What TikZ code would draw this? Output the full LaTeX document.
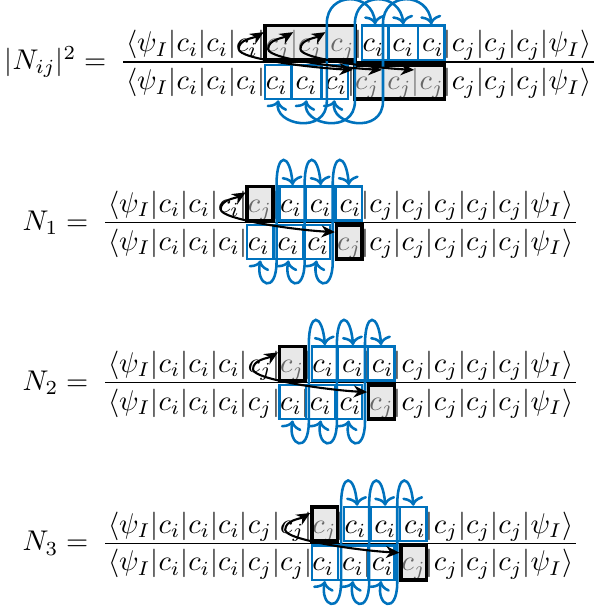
\documentclass[tikz,border=0pt]{standalone}
\usepackage{graphicx}
\usetikzlibrary{calc,arrows.meta}
\definecolor{mblue}{RGB}{0,114,189}
\tikzset{
  sym/.style={inner sep=0pt, outer sep=0pt, anchor=base west},
  bcell/.style={draw=mblue, line width=0.8pt, inner sep=0pt, outer sep=0pt, minimum height=11.4pt},
  kgroup/.style={draw=black, line width=1.2pt, fill=black!18, fill opacity=0.5, inner sep=0pt, outer sep=0pt, minimum height=11.4pt},
  bluearrow/.style={draw=mblue, line width=0.85pt, >={To[length=3pt,width=7pt]}, <->},
  blackarrow/.style={draw=black, line width=0.7pt, >={Stealth[length=4.5pt,width=4pt]}, <->},
  fracrule/.style={line width=0.4pt},
}
\newcommand\mth[1]{\scalebox{0.95}{$#1$}}
\newcommand\upsh{3.08pt}
\newcommand\dnsh{2.67pt}
% one row of the bra-ket string, each symbol a named node
\newcommand\mkrow[4]{%
  \node[sym] (#1C0) at (#2,#3) {\mth{\langle\psi_I}};
  \foreach \s [count=\k] in {#4} {
    \pgfmathtruncatemacro\pk{\k-1}
    \node[sym] (#1B\k) at (#1C\pk.base east) {\mth{|}};
    \node[sym] (#1C\k) at (#1B\k.base east) {\mth{c_\s}};
  }
  \node[sym] (#1B13) at (#1C12.base east) {\mth{|}};
  \node[sym] (#1E) at (#1B13.base east) {\mth{\psi_I\rangle}};
}
\newcommand\bluecell[7]{%
  \path let \p1=(#2B#3.center), \p2=(#2B#4.center), \p3=(#2C#3.base) in
    node[bcell, minimum width={\x2-\x1-#5-#6}] (#1) at ({(\x1+\x2+#5-#6)/2},{\y3+#7}) {};
}
\newcommand\blackgroup[5]{%
  \path let \p1=(#2B#3.center), \p2=(#2B#4.center), \p3=(#2C#3.base) in
    node[kgroup, minimum width={\x2-\x1-2.2pt}] (#1) at ({(\x1+\x2)/2},{\y3+#5}) {};
}
\newcommand\sloop[2]{%
  \draw[bluearrow] let \p1=(#1.south), \p2=(#2.north), \p3=($(#1.south)!0.5!(#2.north)$) in
    (\x1,\y1-0.4pt) .. controls (\x1-1.7pt,\y1-8.7pt) and (\x3,\y1-12pt) .. (\x3,\y1-0.7pt)
    -- (\x3,\y2+0.7pt) .. controls (\x3,\y2+11.6pt) and (\x2-0.9pt,\y2+11.3pt) .. (\x2,\y2+0.4pt);
}
\newcommand\bcurve[2]{%
  \draw[blackarrow] (#1) .. controls +(-10,6) and +(0,-10) .. ($(#1)+(-25,17)$)
    .. controls +(0,10) and +(-40,-2) .. (#2);
}
\newcommand\nrow[6]{% index, p, rule y, num list, den list, x0
  \pgfmathsetmacro\ynum{#3-10}
  \pgfmathsetmacro\yden{#3+27.5}
  \pgfmathtruncatemacro\pa{#2+1}
  \pgfmathtruncatemacro\pb{#2+2}
  \pgfmathtruncatemacro\pc{#2+3}
  \pgfmathtruncatemacro\pd{#2+4}
  \mkrow{U#1}{#6}{\ynum}{#4}
  \mkrow{L#1}{#6}{\yden}{#5}
  \coordinate (r#1) at (0,#3);
  \draw[fracrule] ($(U#1C0.west |- r#1)+(-3,0)$) -- ($(U#1E.east |- r#1)+(3,0)$);
  \node[anchor=base east, inner sep=0pt] (lab#1) at ($(U#1C0.west |- r#1)+(-19,7.5)$) {\mth{N_#1 =}};
  \blackgroup{U#1K}{U#1}{#2}{\pa}{\upsh}
  \bluecell{U#1x\pa}{U#1}{\pa}{\pb}{1.1pt}{0pt}{\upsh}
  \bluecell{U#1x\pb}{U#1}{\pb}{\pc}{0pt}{0pt}{\upsh}
  \bluecell{U#1x\pc}{U#1}{\pc}{\pd}{0pt}{1.1pt}{\upsh}
  \bluecell{L#1x#2}{L#1}{#2}{\pa}{1.1pt}{0pt}{\dnsh}
  \bluecell{L#1x\pa}{L#1}{\pa}{\pb}{0pt}{0pt}{\dnsh}
  \bluecell{L#1x\pb}{L#1}{\pb}{\pc}{0pt}{1.1pt}{\dnsh}
  \blackgroup{L#1K}{L#1}{\pc}{\pd}{\dnsh}
  \sloop{L#1x#2}{U#1x\pa}
  \sloop{L#1x\pa}{U#1x\pb}
  \sloop{L#1x\pb}{U#1x\pc}
  \coordinate (ut#1) at ($(U#1K.north west)+(-1.5,6)$);
  \coordinate (lt#1) at ($(L#1K.north west)+(-1.5,7)$);
  \bcurve{ut#1}{lt#1}
}
\begin{document}
\begin{tikzpicture}[x=0.33333pt,y=-0.33333pt]
\useasboundingbox (0,0) rectangle (595,616);
% ---- |N_ij|^2
\coordinate (r0) at (0,62);
\mkrow{T}{126}{52}{i,i,i,j,j,j,i,i,i,j,j,j}
\mkrow{t}{126}{90}{i,i,i,i,i,i,j,j,j,j,j,j}
\draw[fracrule] ($(TC0.west |- r0)+(-3,0)$) -- ($(TE.east |- r0)+(3,0)$);
\node[anchor=base east, inner sep=0pt] (lab0) at ($(TC0.west |- r0)+(-19,7.5)$) {\mth{|N_{ij}|^2 =}};
\blackgroup{TK}{T}{4}{7}{\upsh}
\bluecell{Tx7}{T}{7}{8}{1.1pt}{0pt}{\upsh}
\bluecell{Tx8}{T}{8}{9}{0pt}{0pt}{\upsh}
\bluecell{Tx9}{T}{9}{10}{0pt}{1.1pt}{\upsh}
\bluecell{tx4}{t}{4}{5}{1.1pt}{0pt}{\dnsh}
\bluecell{tx5}{t}{5}{6}{0pt}{0pt}{\dnsh}
\bluecell{tx6}{t}{6}{7}{0pt}{1.1pt}{\dnsh}
\blackgroup{tK}{t}{7}{10}{\dnsh}
\sloop{tx4}{Tx7}
\sloop{tx5}{Tx8}
\sloop{tx6}{Tx9}
\coordinate (uA) at ($(TK.north west)+(-1.5,6.5)$);
\coordinate (uB) at ($(TB5.center |- TK.north)+(-1,6.5)$);
\coordinate (uC) at ($(TB6.center |- TK.north)+(-1,6.5)$);
\coordinate (lA) at ($(tK.north west)+(-1.5,5)$);
\coordinate (lB) at ($(tB8.center |- tK.north)+(-1.5,5)$);
\coordinate (lC) at ($(tB9.center |- tK.north)+(-1.5,5)$);
\bcurve{uA}{lA}
\bcurve{uB}{lB}
\bcurve{uC}{lC}
% ---- N_1, N_2, N_3
\nrow{1}{4}{222.7}{i,i,i,j,i,i,i,j,j,j,j,j}{i,i,i,i,i,i,j,j,j,j,j,j}{108}
\nrow{2}{5}{382.7}{i,i,i,j,j,i,i,i,j,j,j,j}{i,i,i,j,i,i,i,j,j,j,j,j}{108}
\nrow{3}{6}{543.3}{i,i,i,j,j,j,i,i,i,j,j,j}{i,i,i,j,j,i,i,i,j,j,j,j}{108}
\end{tikzpicture}
\end{document}
